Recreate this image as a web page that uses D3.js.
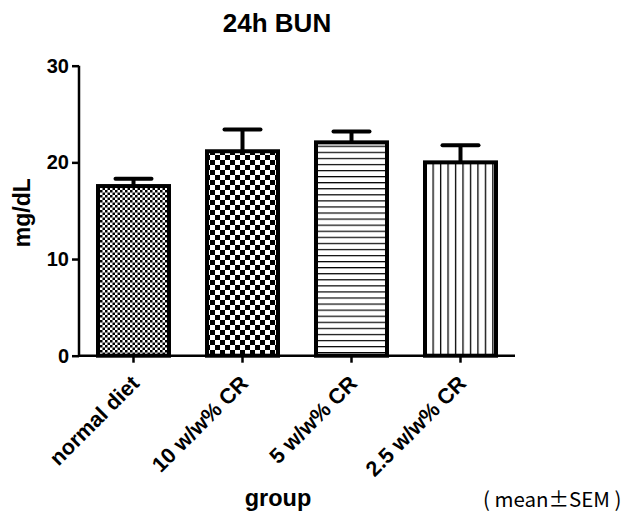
<!DOCTYPE html>
<html><head><meta charset="utf-8">
<script src="https://cdn.jsdelivr.net/npm/d3@7"></script>
<style>body{margin:0;background:#fff}svg{display:block}</style>
</head><body>
<svg id="c" width="643" height="515"></svg>
<script>
const categories = ["normal diet", "10 w/w% CR", "5 w/w% CR", "2.5 w/w% CR"];
const means = [17.55, 21.15, 22.07, 20.0];
const sems = [0.75, 2.25, 1.13, 1.76];
const patterns = ["fineCheck", "coarseCheck", "hLines", "vLines"];
const yTicks = [0, 10, 20, 30];
const title = "24h BUN";
const yLabel = "mg/dL";
const xLabel = "group";
const note = "( mean±SEM )";

const svg = d3.select("#c");
const FONT = "'Liberation Sans', Arial, sans-serif";
const x = d3.scaleBand().domain(categories).range([79, 515]).paddingInner(0.312).paddingOuter(0.156);
const y = d3.scaleLinear().domain([0, 30]).range([355.7, 65.7]);

const defs = svg.append("defs");
let p = defs.append("pattern").attr("id", "fineCheck").attr("patternUnits", "userSpaceOnUse")
  .attr("width", 5).attr("height", 5);
p.append("rect").attr("width", 5).attr("height", 5).attr("fill", "#fff");
p.append("rect").attr("width", 2.5).attr("height", 2.5).attr("fill", "#000");
p.append("rect").attr("x", 2.5).attr("y", 2.5).attr("width", 2.5).attr("height", 2.5).attr("fill", "#000");
p = defs.append("pattern").attr("id", "coarseCheck").attr("patternUnits", "userSpaceOnUse")
  .attr("width", 10).attr("height", 10);
p.append("rect").attr("width", 10).attr("height", 10).attr("fill", "#fff");
p.append("rect").attr("width", 5).attr("height", 5).attr("fill", "#000");
p.append("rect").attr("x", 5).attr("y", 5).attr("width", 5).attr("height", 5).attr("fill", "#000");
p = defs.append("pattern").attr("id", "hLines").attr("patternUnits", "userSpaceOnUse")
  .attr("width", 10).attr("height", 6.07);
p.append("rect").attr("width", 10).attr("height", 6.07).attr("fill", "#fff");
p.append("rect").attr("y", 0).attr("width", 10).attr("height", 1.2).attr("fill", "#000");
p = defs.append("pattern").attr("id", "vLines").attr("patternUnits", "userSpaceOnUse")
  .attr("width", 7.47).attr("height", 10).attr("x", x(categories[3]) + 2);
p.append("rect").attr("width", 7.47).attr("height", 10).attr("fill", "#fff");
p.append("rect").attr("x", 0).attr("width", 1.3).attr("height", 10).attr("fill", "#000");

const data = categories.map((c, i) => ({c, m: means[i], s: sems[i], p: patterns[i]}));

const eb = svg.append("g");
data.forEach(d => {
  const cx = x(d.c) + x.bandwidth() / 2;
  eb.append("line").attr("x1", cx).attr("x2", cx).attr("y1", y(d.m)).attr("y2", y(d.m + d.s))
    .attr("stroke", "#000").attr("stroke-width", 4);
  eb.append("line").attr("x1", cx - 18).attr("x2", cx + 18).attr("y1", y(d.m + d.s)).attr("y2", y(d.m + d.s))
    .attr("stroke", "#000").attr("stroke-width", 4).attr("stroke-linecap", "round");
});

svg.append("g").selectAll("rect").data(data).join("rect")
  .attr("x", d => x(d.c) + 2).attr("width", x.bandwidth() - 4)
  .attr("y", d => y(d.m)).attr("height", d => y(0) - y(d.m))
  .attr("fill", d => `url(#${d.p})`).attr("stroke", "#000").attr("stroke-width", 4);

const ya = svg.append("g").attr("transform", "translate(79,0)")
  .call(d3.axisLeft(y).tickValues(yTicks).tickSize(7).tickPadding(3).tickFormat(d3.format("d")));
ya.select(".domain").attr("stroke-width", 2.5).attr("d", `M0,${y(30)}V${y(0) + 1}`);
ya.selectAll(".tick line").attr("stroke-width", 2.5);
ya.selectAll(".tick text").attr("font-family", FONT).attr("font-weight", "bold").attr("font-size", 20).attr("fill", "#000");

const xa = svg.append("g").attr("transform", `translate(0,${y(0)})`)
  .call(d3.axisBottom(x).tickSize(7).tickSizeOuter(0));
xa.select(".domain").attr("stroke-width", 2.5).attr("d", "M79,0H515");
xa.selectAll(".tick line").attr("stroke-width", 2.5);
xa.selectAll(".tick text").attr("font-family", FONT).attr("font-weight", "bold").attr("font-size", 21.5).attr("fill", "#000")
  .attr("text-anchor", "end").attr("dy", null)
  .attr("transform", "translate(7,29) rotate(-45)").attr("y", 0).attr("x", 0);

svg.append("text").attr("x", 277).attr("y", 32).attr("text-anchor", "middle")
  .attr("font-family", FONT).attr("font-weight", "bold").attr("font-size", 26).text(title);
svg.append("text").attr("transform", `translate(30,${(y(0) + y(30)) / 2 + 2}) rotate(-90)`).attr("text-anchor", "middle")
  .attr("font-family", FONT).attr("font-weight", "bold").attr("font-size", 23).text(yLabel);
svg.append("text").attr("x", 278).attr("y", 506).attr("text-anchor", "middle")
  .attr("font-family", FONT).attr("font-weight", "bold").attr("font-size", 23.5).text(xLabel);
svg.append("text").attr("x", 483).attr("y", 507)
  .attr("font-family", "'Noto Sans CJK JP', sans-serif").attr("font-size", 20.5).attr("xml:space", "preserve").text(note);
</script>
</body></html>
